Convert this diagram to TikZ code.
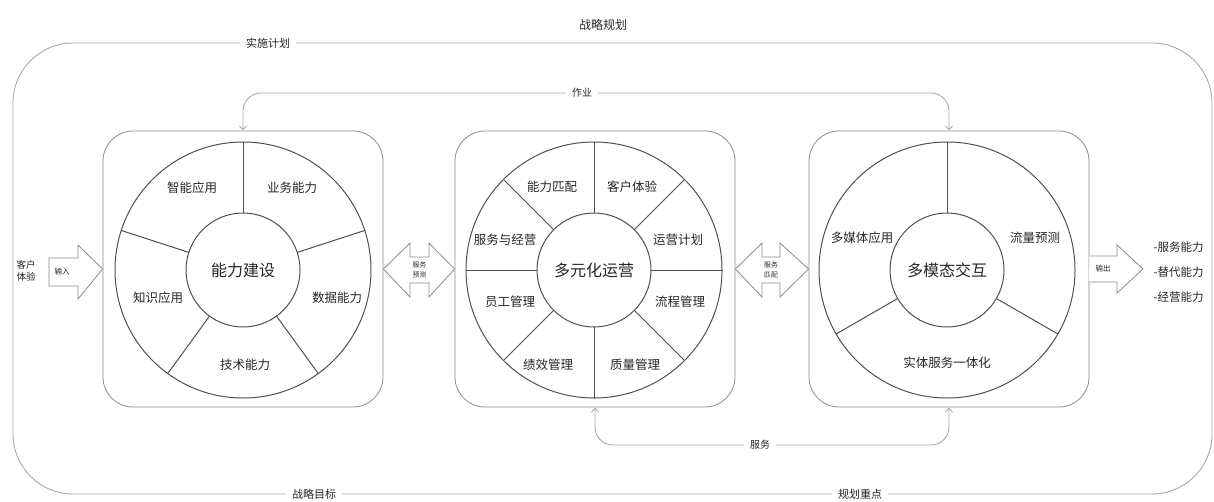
\documentclass[tikz,border=0pt]{standalone}
\usepackage{fontspec}
\newfontfamily\cjk{Noto Sans CJK SC}
\usetikzlibrary{arrows.meta}
\definecolor{outl}{HTML}{A8A8A8}
\definecolor{pnl}{HTML}{8C8C8C}
\definecolor{whl}{HTML}{505050}
\definecolor{txt}{HTML}{262626}
\newcommand{\fs}[1]{\fontsize{#1}{#1}\selectfont}
\begin{document}
\begin{tikzpicture}[x=1pt,y=-1pt,
  every node/.style={font=\cjk, text=txt},
  panel/.style={draw=pnl, line width=0.8pt, rounded corners=30pt, minimum width=280pt, minimum height=276pt, inner sep=0pt},
  outerc/.style={circle, draw=whl, line width=1pt, minimum size=256pt, inner sep=0pt},
  innerc/.style={circle, draw=whl, line width=1pt, fill=white, minimum size=114pt, inner sep=0pt, font=\cjk\fs{16}},
  spoke/.style={draw=whl, line width=1pt},
  seg/.style={font=\cjk\fs{12.5}},
  conn/.style={draw=outl, line width=0.9pt, rounded corners=18pt},
  tip/.style={{Straight Barb[length=4pt,width=7pt]}-{Straight Barb[length=4pt,width=7pt]}},
  lab/.style={fill=white, inner xsep=6pt, inner ysep=1pt, font=\cjk\fs{11}},
  arr/.style={draw=pnl, line width=0.8pt, fill=white, line join=miter},
  tiny/.style={font=\cjk\fs{6.8}, align=center, inner sep=0pt}
]
\useasboundingbox (0,0) rectangle (1214,501);

% outer frame
\draw[draw=outl, line width=0.9pt, rounded corners=60pt] (13,43) rectangle (1212,494);
\node[font=\cjk\fs{12}] (title) at (603,25) {战略规划};
\node[lab] (l1) at (268,43) {实施计划};
\node[lab] (l2) at (314,494) {战略目标};
\node[lab] (l3) at (860,494) {规划重点};

% panels
\node[panel] (p1) at (243,269) {};
\node[panel] (p2) at (595,269) {};
\node[panel] (p3) at (949,269) {};

% wheel 1
\node[outerc] (o1) at (243,270) {};
\foreach \a in {90,18,-54,-126,162} \draw[spoke] (243,270) ++(\a:57pt) -- (o1.\a);
\node[innerc] (c1) at (243,270) {能力建设};
\node[seg] (s11) at (192,188) {智能应用};
\node[seg] (s12) at (292,188) {业务能力};
\node[seg] (s13) at (337,298) {数据能力};
\node[seg] (s14) at (245,365) {技术能力};
\node[seg] (s15) at (158,298) {知识应用};

% wheel 2
\node[outerc] (o2) at (594,270) {};
\foreach \a in {0,45,...,315} \draw[spoke] (594,270) ++(\a:57pt) -- (o2.\a);
\node[innerc] (c2) at (594,270) {多元化运营};
\node[seg] (s21) at (552,187) {能力匹配};
\node[seg] (s22) at (632,187) {客户体验};
\node[seg] (s23) at (678,240) {运营计划};
\node[seg] (s24) at (680,302) {流程管理};
\node[seg] (s25) at (635,365) {质量管理};
\node[seg] (s26) at (548,365) {绩效管理};
\node[seg] (s27) at (510,302) {员工管理};
\node[seg] (s28) at (505,240) {服务与经营};

% wheel 3
\node[outerc] (o3) at (947,270) {};
\foreach \a in {90,-30,210} \draw[spoke] (947,270) ++(\a:57pt) -- (o3.\a);
\node[innerc] (c3) at (947,270) {多模态交互};
\node[seg] (s31) at (862,238) {多媒体应用};
\node[seg] (s32) at (1035,238) {流量预测};
\node[seg] (s33) at (947,363) {实体服务一体化};

% connectors
\draw[conn, tip] (p1.north) -- (243,93) -- (949,93) -- (p3.north);
\node[lab, font=\cjk\fs{10}] (zy) at (582,93) {作业};
\draw[conn, tip] (p2.south) -- (595,445) -- (949,445) -- (p3.south);
\node[lab, font=\cjk\fs{10}] (fw) at (760,445) {服务};

% input arrow
\draw[arr] (49,258) -- (78,258) -- (78,245) -- (p1.west) -- (78,299) -- (78,286) -- (49,286) -- cycle;
\node[font=\cjk\fs{7.5}] (in) at (62,272) {输入};
\node[font=\cjk\fs{9.5}, align=center, inner sep=0pt] (kh) at (26,271) {客户\\[2pt]体验};

% double arrows
\draw[arr] (p1.east) -- (410,243) -- (410,257) -- (429,257) -- (429,243) -- (p2.west) -- (429,297) -- (429,283) -- (410,283) -- (410,297) -- cycle;
\node[tiny] (d1) at (419.5,270) {服务\\[3pt]预测};
\draw[arr] (p2.east) -- (762,243) -- (762,257) -- (780,257) -- (780,243) -- (p3.west) -- (780,297) -- (780,283) -- (762,283) -- (762,297) -- cycle;
\node[tiny] (d2) at (771,270) {服务\\[3pt]匹配};

% output arrow
\draw[arr] (p3.east) ++(0,-13) -- (1117,256) -- (1117,245) -- (1143,269) -- (1117,293) -- (1117,282) -- (1089,282) ;
\node[font=\cjk\fs{7.5}] (out) at (1103,269) {输出};
\node[font=\cjk\fs{11.5}, anchor=west] (r1) at (1150,247) {-服务能力};
\node[font=\cjk\fs{11.5}, anchor=west] (r2) at (1150,272) {-替代能力};
\node[font=\cjk\fs{11.5}, anchor=west] (r3) at (1150,297) {-经营能力};
\end{tikzpicture}
\end{document}
